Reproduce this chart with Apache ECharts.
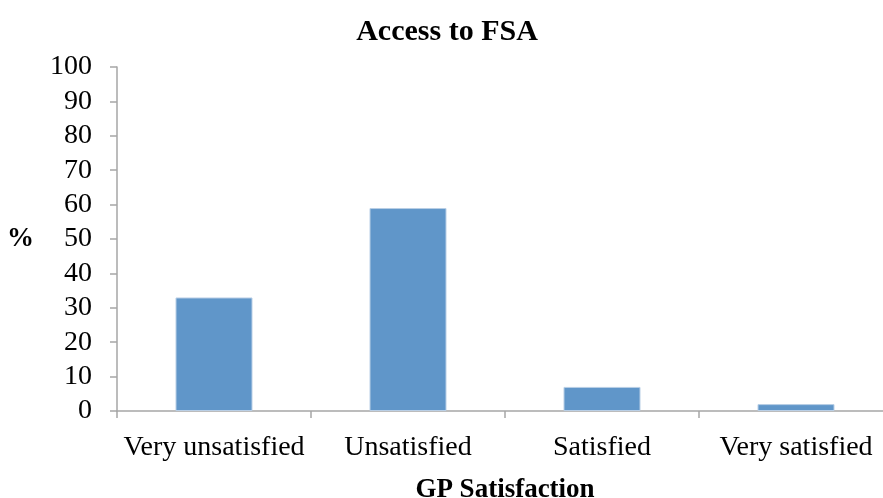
<!DOCTYPE html>
<html><head><meta charset="utf-8">
<script src="https://cdn.jsdelivr.net/npm/echarts@6/dist/echarts.min.js"></script>
<style>html,body{margin:0;padding:0;background:#fff}#c{width:883px;height:498px}</style>
</head><body><div id="c"></div>
<script>
var categories = ['Very unsatisfied', 'Unsatisfied', 'Satisfied', 'Very satisfied'];
var values = [33, 59, 7, 2];
var chartTitle = 'Access to FSA';
var xName = 'GP Satisfaction';
var yName = '%';
var FONT = 'Liberation Serif';
var chart = echarts.init(document.getElementById('c'));
chart.setOption({
  animation: false,
  title: {text: chartTitle, left: 442, top: 12, textAlign: 'center',
    textStyle: {fontFamily: FONT, fontWeight: 'bold', fontSize: 30, color: '#000'}},
  grid: {left: 117, right: -10, top: 67, bottom: 87, containLabel: false, outerBoundsMode: 'none'},
  xAxis: {type: 'category', data: categories,
    name: xName, nameLocation: 'middle', nameGap: 66,
    nameTextStyle: {fontFamily: FONT, fontWeight: 'bold', fontSize: 27, color: '#000'},
    axisLine: {lineStyle: {color: '#a6a6a6', width: 1.5}},
    axisTick: {show: true, length: 7, lineStyle: {color: '#a6a6a6', width: 1.5}},
    axisLabel: {interval: 0, fontFamily: FONT, fontSize: 28, color: '#000', margin: 23}},
  yAxis: {type: 'value', min: 0, max: 100, interval: 10,
    name: yName, nameLocation: 'middle', nameGap: 83, nameRotate: 0,
    nameTextStyle: {fontFamily: FONT, fontWeight: 'bold', fontSize: 27, color: '#000', padding: [6, 0, 0, 0]},
    splitLine: {show: false},
    axisLine: {show: true, lineStyle: {color: '#a6a6a6', width: 1.5}},
    axisTick: {show: true, length: 7, lineStyle: {color: '#a6a6a6', width: 1.5}},
    axisLabel: {fontFamily: FONT, fontSize: 28, color: '#000', margin: 25, padding: [6, 0, 0, 0]}},
  series: [{type: 'bar', data: values, barWidth: 77,
    itemStyle: {color: '#6096c9', borderColor: '#b9cfe6', borderWidth: 1}}]
});
</script></body></html>
